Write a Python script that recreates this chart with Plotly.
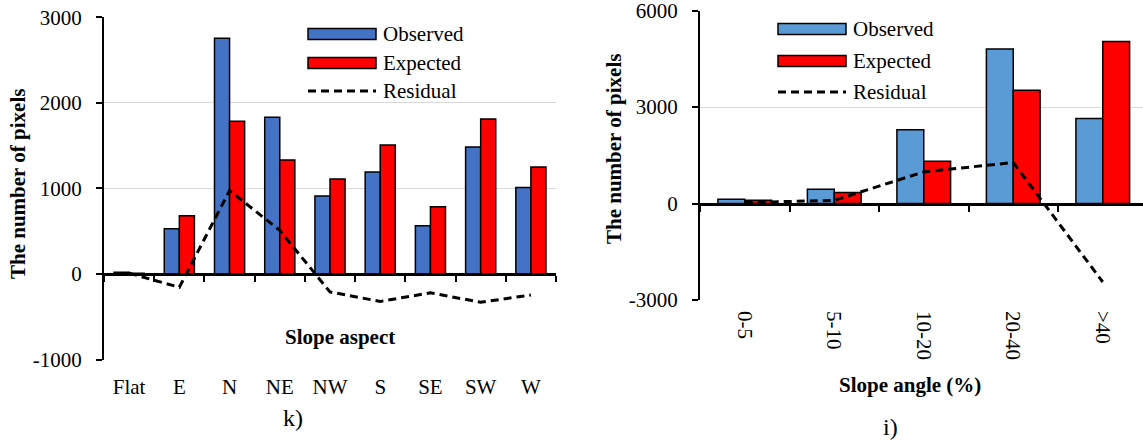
import plotly.graph_objects as go

# ---------------- data ----------------
aspect_categories = ["Flat", "E", "N", "NE", "NW", "S", "SE", "SW", "W"]
aspect_observed = [20, 530, 2755, 1832, 912, 1192, 565, 1485, 1010]
aspect_expected = [10, 682, 1785, 1332, 1110, 1508, 787, 1811, 1250]
aspect_residual = [10, -155, 975, 510, -210, -320, -220, -330, -245]
aspect_yticks = [-1000, 0, 1000, 2000, 3000]

angle_categories = ["0-5", "5-10", "10-20", "20-40", ">40"]
angle_observed = [135, 446, 2294, 4806, 2647]
angle_expected = [104, 343, 1318, 3529, 5045]
angle_residual = [30, 100, 985, 1277, -2440]
angle_yticks = [-3000, 0, 3000, 6000]

# ---------------- styling ----------------
W, H = 1143, 442
FONT = "Liberation Serif, Times New Roman, serif"
BLUE_L = "#4472C4"
BLUE_R = "#5B9BD5"
RED = "#FF0000"
GRID = "#D9D9D9"
DASH = "8px,5px"


def fx(p):
    return p / W


def fy(p):
    return 1 - p / H


L_XDOM = [fx(104), fx(556)]
L_YDOM = [fy(359.6), fy(17.3)]
L_YR = [-1000, 3000]
R_XDOM = [fx(700), 1.0]
R_YDOM = [fy(300), fy(10.7)]
R_YR = [-3000, 6000]
R_XR = [-0.5, -0.5 + (1143 - 700) / 89.5]


def zero_pos(ydom, yr):
    return ydom[0] + (0 - yr[0]) / (yr[1] - yr[0]) * (ydom[1] - ydom[0])


fig = go.Figure()

bar_line = dict(color="black", width=1.5)

# left chart
fig.add_trace(go.Bar(x=aspect_categories, y=aspect_observed, name="Observed",
                     marker=dict(color=BLUE_L, line=bar_line), xaxis="x", yaxis="y"))
fig.add_trace(go.Bar(x=aspect_categories, y=aspect_expected, name="Expected",
                     marker=dict(color=RED, line=bar_line), xaxis="x", yaxis="y"))
fig.add_trace(go.Scatter(x=aspect_categories, y=aspect_residual, name="Residual", mode="lines",
                         line=dict(color="black", width=3, dash=DASH), xaxis="x", yaxis="y"))
# right chart
fig.add_trace(go.Bar(x=angle_categories, y=angle_observed, name="Observed",
                     marker=dict(color=BLUE_R, line=bar_line), xaxis="x3", yaxis="y3"))
fig.add_trace(go.Bar(x=angle_categories, y=angle_expected, name="Expected",
                     marker=dict(color=RED, line=bar_line), xaxis="x3", yaxis="y3"))
fig.add_trace(go.Scatter(x=angle_categories, y=angle_residual, name="Residual", mode="lines",
                         line=dict(color="black", width=3, dash=DASH), xaxis="x3", yaxis="y3"))
# helper empty traces so the zero-line tick axes exist
fig.add_trace(go.Scatter(x=[None], y=[None], xaxis="x2", yaxis="y", showlegend=False, hoverinfo="skip"))
fig.add_trace(go.Scatter(x=[None], y=[None], xaxis="x4", yaxis="y3", showlegend=False, hoverinfo="skip"))

tick_font = dict(family=FONT, size=21, color="black")

n_l = len(aspect_categories)
n_r = len(angle_categories)

fig.update_layout(
    width=W, height=H,
    margin=dict(l=0, r=0, t=0, b=0, autoexpand=False),
    paper_bgcolor="white", plot_bgcolor="white",
    showlegend=False,
    barmode="group", bargap=0.4, bargroupgap=0,
    font=dict(family=FONT, size=21, color="black"),
    xaxis=dict(domain=L_XDOM, type="category", range=[-0.5, n_l - 0.5], anchor="y",
               showline=False, showgrid=False, ticks="", tickfont=tick_font,
               ticklabelstandoff=12, automargin=False, ticklabeloverflow="allow"),
    yaxis=dict(domain=L_YDOM, range=L_YR, anchor="x", tickvals=aspect_yticks,
               ticktext=[str(v) for v in aspect_yticks],
               showline=True, linecolor="black", linewidth=2,
               ticks="outside", ticklen=6, tickwidth=2, tickcolor="black",
               showgrid=True, gridcolor=GRID, gridwidth=1.2, zeroline=False,
               tickfont=tick_font, ticklabelstandoff=10, automargin=False,
               ticklabeloverflow="allow"),
    xaxis2=dict(domain=L_XDOM, overlaying="x", anchor="free",
                position=zero_pos(L_YDOM, L_YR), range=[-0.5, n_l - 0.5],
                tickvals=[i - 0.5 for i in range(n_l + 1)], showticklabels=False,
                ticks="outside", ticklen=6, tickwidth=2, tickcolor="black",
                showline=True, linecolor="black", linewidth=3, showgrid=False, zeroline=False,
                automargin=False),
    xaxis3=dict(domain=R_XDOM, type="category", range=R_XR, anchor="y3",
                showline=False, showgrid=False, ticks="", tickfont=tick_font,
                tickangle=90, ticklabelstandoff=10, automargin=False,
                ticklabeloverflow="allow"),
    yaxis3=dict(domain=R_YDOM, range=R_YR, anchor="x3", tickvals=angle_yticks,
                ticktext=[str(v) for v in angle_yticks],
                showline=True, linecolor="black", linewidth=2,
                ticks="outside", ticklen=6, tickwidth=2, tickcolor="black",
                showgrid=True, gridcolor=GRID, gridwidth=1.2, zeroline=False,
                tickfont=tick_font, ticklabelstandoff=10, automargin=False,
                ticklabeloverflow="allow"),
    xaxis4=dict(domain=R_XDOM, overlaying="x3", anchor="free",
                position=zero_pos(R_YDOM, R_YR), range=R_XR,
                tickvals=[i - 0.5 for i in range(n_r + 1)], showticklabels=False,
                ticks="outside", ticklen=6, tickwidth=2, tickcolor="black",
                showline=True, linecolor="black", linewidth=3, showgrid=False, zeroline=False,
                automargin=False),
)

annotations = []
shapes = []


def text(x, y, s, size=21, bold=False, angle=0, xanchor="center"):
    annotations.append(dict(
        x=fx(x), y=fy(y), xref="paper", yref="paper", text=("<b>%s</b>" % s) if bold else s,
        showarrow=False, xanchor=xanchor, yanchor="middle", textangle=angle,
        font=dict(family=FONT, size=size, color="black")))


def legend(x0, x1, y_obs, y_exp, y_res, obs_color, text_x):
    for yc, col in ((y_obs, obs_color), (y_exp, RED)):
        shapes.append(dict(type="rect", xref="paper", yref="paper",
                           x0=fx(x0), x1=fx(x1), y0=fy(yc + 5.5), y1=fy(yc - 5.5),
                           fillcolor=col, line=dict(color="black", width=1.5)))
    shapes.append(dict(type="line", xref="paper", yref="paper",
                       x0=fx(x0), x1=fx(x1), y0=fy(y_res), y1=fy(y_res),
                       line=dict(color="black", width=3, dash=DASH)))
    text(text_x, y_obs, "Observed", xanchor="left")
    text(text_x, y_exp, "Expected", xanchor="left")
    text(text_x, y_res, "Residual", xanchor="left")


legend(308, 376, 34, 63, 91, BLUE_L, 381)
legend(778, 846, 29, 61, 92, BLUE_R, 851)

text(18, 184, "The number of pixels", bold=True, angle=-90)
text(614, 149, "The number of pixels", bold=True, angle=-90)
text(340, 337, "Slope aspect", bold=True)
text(910, 385, "Slope angle (%)", bold=True)
text(293, 418, "k)", size=24)
text(890, 427, "i)", size=24)

fig.update_layout(annotations=annotations, shapes=shapes)

fig.write_html("out.html",
               config={"displayModeBar": False, "staticPlot": True},
               post_script="document.body.style.margin='0';document.body.style.overflow='hidden';")
